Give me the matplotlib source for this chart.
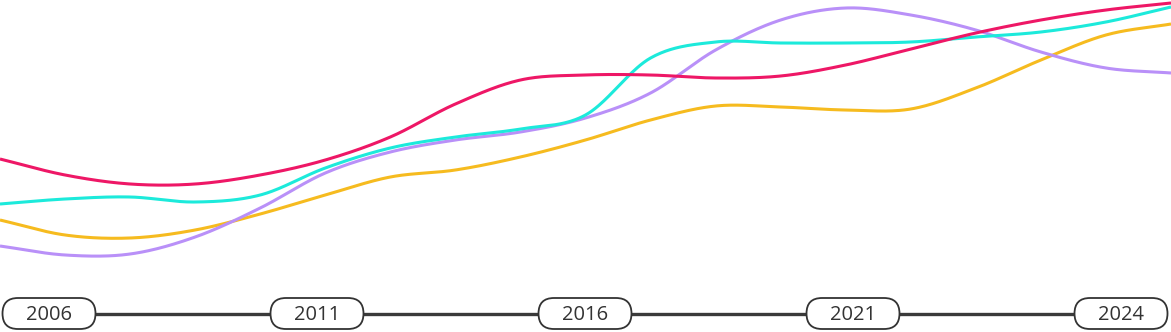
import numpy as np
import matplotlib as mpl
mpl.use('Agg')
import matplotlib.pyplot as plt
from matplotlib.patches import FancyBboxPatch

years = np.arange(2006, 2025)

### values (arbitrary units)
pink   = [111, 95, 86, 86, 95, 110, 133, 166, 190, 195, 195, 192, 194, 205, 221, 237, 250, 260, 267]
cyan   = [66, 71, 73, 68, 75, 102, 122, 133, 141, 155, 212, 228, 227, 227, 228, 233, 238, 248, 263]
purple = [24, 15, 16, 33, 62, 97, 118, 130, 138, 152, 177, 220, 250, 262, 255, 240, 218, 202, 197]
yellow = [50, 35, 32, 40, 56, 75, 93, 100, 113, 130, 150, 164, 163, 160, 161, 182, 210, 235, 246]

timeline_labels = ['2006', '2011', '2016', '2021', '2024']

colors = {'yellow': '#F6BB1F', 'purple': '#B990F8', 'cyan': '#1CEADB', 'pink': '#EE1766'}


def smooth(x, y, n=40):
	# catmull-rom through the points
	x = np.asarray(x, float)
	y = np.asarray(y, float)
	h = np.diff(x)
	t = np.zeros(len(x))
	t[1:-1] = (y[2:] - y[:-2]) / (x[2:] - x[:-2])
	t[0] = (y[1] - y[0]) / h[0]
	t[-1] = (y[-1] - y[-2]) / h[-1]
	xs = []
	ys = []
	for k in range(len(x) - 1):
		u = np.linspace(0, 1, n)
		h00 = 2*u**3 - 3*u**2 + 1
		h10 = u**3 - 2*u**2 + u
		h01 = -2*u**3 + 3*u**2
		h11 = u**3 - u**2
		xs.append(x[k] + u * h[k])
		ys.append(h00*y[k] + h10*h[k]*t[k] + h01*y[k+1] + h11*h[k]*t[k+1])
	return np.concatenate(xs), np.concatenate(ys)


fig = plt.figure(figsize=(11.71, 3.32), dpi=100)

ax = fig.add_axes([0, 62/332, 1, 270/332])
for name, vals in [('yellow', yellow), ('purple', purple), ('cyan', cyan), ('pink', pink)]:
	xs, ys = smooth(years, vals)
	ax.plot(xs, ys, color=colors[name], lw=2.2, solid_capstyle='butt')
ax.set_xlim(years[0], years[-1])
ax.set_ylim(0, 270)
ax.axis('off')

### timeline at the bottom, in pixel units
tl = fig.add_axes([0, 0, 1, 1])
tl.set_xlim(0, 1171)
tl.set_ylim(332, 0)
tl.axis('off')
centers = np.linspace(49, 1121, len(timeline_labels))
tl.plot([centers[0], centers[-1]], [313.5, 313.5], color='#3a3a3a', lw=2.4, zorder=1)
for cx, lab in zip(centers, timeline_labels):
	box = FancyBboxPatch((cx - 31, 313.5), 62, 0.001, boxstyle='round,pad=15.5',
		facecolor='white', edgecolor='#333333', lw=1.3, zorder=2)
	tl.add_patch(box)
	tl.text(cx, 314.5, lab, ha='center', va='center', fontsize=14.5,
		family=['Open Sans', 'DejaVu Sans'], color='#333333', zorder=3)

plt.savefig('out.png', dpi=100)
